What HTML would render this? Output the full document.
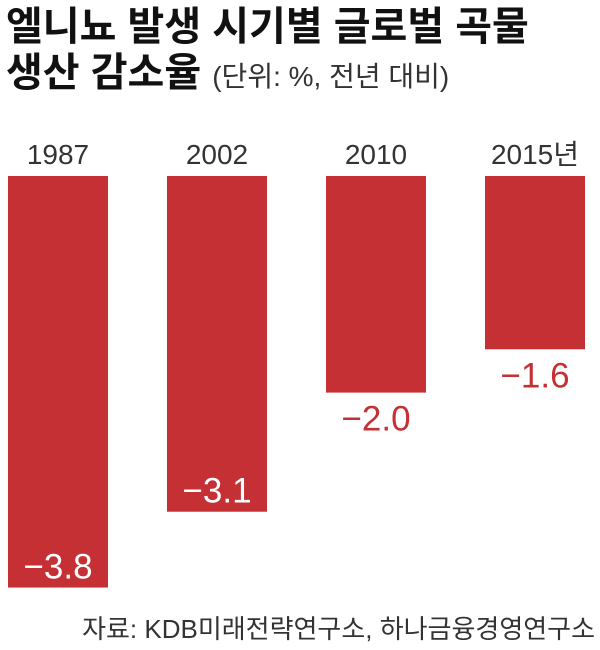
<!DOCTYPE html>
<html><head><meta charset="utf-8"><style>
body{margin:0;background:#fff;width:600px;height:645px;overflow:hidden;font-family:"Liberation Sans","Noto Sans CJK KR",sans-serif}
</style></head><body>
<svg width="600" height="645" xmlns="http://www.w3.org/2000/svg">
<text x="6" y="40" font-size="40" font-weight="bold" fill="#111" font-family="Liberation Sans, Noto Sans CJK KR, sans-serif">엘니뇨 발생 시기별 글로벌 곡물</text>
<text x="6" y="86" font-size="40" font-weight="bold" fill="#111" font-family="Liberation Sans, Noto Sans CJK KR, sans-serif">생산 감소율 <tspan font-size="28" font-weight="normal" fill="#333">(단위: %, 전년 대비)</tspan></text>
<g id="bars"></g>
<text x="595" y="638" text-anchor="end" font-size="26" fill="#333" font-family="Liberation Sans, Noto Sans CJK KR, sans-serif">자료: KDB미래전략연구소, 하나금융경영연구소</text>
</svg>
<script>
const categories=["1987","2002","2010","2015년"];
const values=[-3.8,-3.1,-2.0,-1.6];
const ns="http://www.w3.org/2000/svg";
const g=document.getElementById("bars");
const top0=176, pxPerUnit=108.3, x0=8, step=159, bw=100;
const xScale=i=>x0+i*step;
const yScale=v=>top0+Math.abs(v)*pxPerUnit;
categories.forEach((c,i)=>{
  const x=xScale(i), yb=yScale(values[i]);
  const r=document.createElementNS(ns,"rect");
  r.setAttribute("x",x);r.setAttribute("y",top0);r.setAttribute("width",bw);r.setAttribute("height",yb-top0);r.setAttribute("fill","#c43034");
  
  
  g.appendChild(r);
  const t=document.createElementNS(ns,"text");
  t.setAttribute("x",x+bw/2);t.setAttribute("y",164);t.setAttribute("text-anchor","middle");t.setAttribute("font-size","28");t.setAttribute("fill","#333");
  t.setAttribute("font-family","Liberation Sans, Noto Sans CJK KR, sans-serif");
  t.textContent=c;
  
  
  g.appendChild(t);
  const inside=Math.abs(values[i])>=3;
  const v=document.createElementNS(ns,"text");
  v.setAttribute("x",x+bw/2);v.setAttribute("y",inside?yb-9:yb+38);v.setAttribute("text-anchor","middle");v.setAttribute("font-size","35");
  v.setAttribute("fill",inside?"#fff":"#c43034");
  v.setAttribute("font-family","Liberation Sans, sans-serif");
  v.textContent="\u2212"+Math.abs(values[i]).toFixed(1);
  
  
  g.appendChild(v);
});
</script>
</body></html>
